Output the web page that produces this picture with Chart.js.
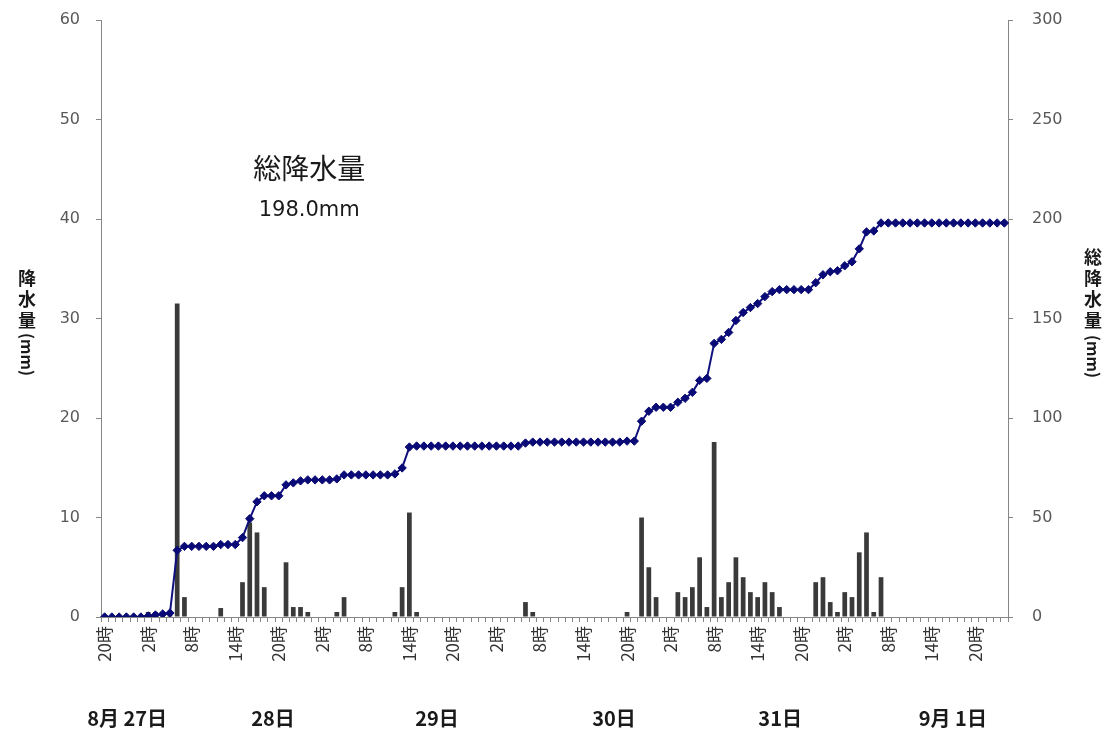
<!DOCTYPE html>
<html>
<head>
<meta charset="utf-8">
<script src="https://cdn.jsdelivr.net/npm/chart.js@4.4.1/dist/chart.umd.min.js"></script>
<style>
	body { margin: 0; background: #fff; }
	canvas { display: block; }
</style>
</head>
<body>
<canvas id="myChart" width="1109" height="735"></canvas>
<script>
// 8/27 20時 から 1時間ごと
var startHour = 20;
var hourCount = 125;

// 時間降水量 (mm)
var rainfall = [
	0, 0, 0, 0, 0, 0, 0.5, 0.5, 0.5, 0.5, 31.5, 2,
	0, 0, 0, 0, 0.9, 0, 0, 3.5, 9.5, 8.5, 3, 0,
	0, 5.5, 1, 1, 0.5, 0, 0, 0, 0.5, 2, 0, 0,
	0, 0, 0, 0, 0.5, 3, 10.5, 0.5, 0, 0, 0, 0,
	0, 0, 0, 0, 0, 0, 0, 0, 0, 0, 1.5, 0.5,
	0, 0, 0, 0, 0, 0, 0, 0, 0, 0, 0, 0,
	0.5, 0, 10, 5, 2, 0, 0, 2.5, 2, 3, 6, 1,
	17.6, 2, 3.5, 6, 4, 2.5, 2, 3.5, 2.5, 1, 0, 0,
	0, 0, 3.5, 4, 1.5, 0.5, 2.5, 2, 6.5, 8.5, 0.5, 4,
	0, 0, 0, 0, 0, 0, 0, 0, 0, 0, 0, 0,
	0, 0, 0, 0, 0
];

// 総降水量 (mm)
var total = [
	0, 0, 0, 0, 0, 0, 0.5, 1, 1.5, 2, 33.5, 35.5,
	35.5, 35.5, 35.5, 35.5, 36.4, 36.4, 36.4, 39.9, 49.4, 57.9, 60.9, 60.9,
	60.9, 66.4, 67.4, 68.4, 68.9, 68.9, 68.9, 68.9, 69.4, 71.4, 71.4, 71.4,
	71.4, 71.4, 71.4, 71.4, 71.9, 74.9, 85.4, 85.9, 85.9, 85.9, 85.9, 85.9,
	85.9, 85.9, 85.9, 85.9, 85.9, 85.9, 85.9, 85.9, 85.9, 85.9, 87.4, 87.9,
	87.9, 87.9, 87.9, 87.9, 87.9, 87.9, 87.9, 87.9, 87.9, 87.9, 87.9, 87.9,
	88.4, 88.4, 98.4, 103.4, 105.4, 105.4, 105.4, 107.9, 109.9, 112.9, 118.9, 119.9,
	137.5, 139.5, 143, 149, 153, 155.5, 157.5, 161, 163.5, 164.5, 164.5, 164.5,
	164.5, 164.5, 168, 172, 173.5, 174, 176.5, 178.5, 185, 193.5, 194, 198,
	198, 198, 198, 198, 198, 198, 198, 198, 198, 198, 198, 198,
	198, 198, 198, 198, 198
];

var dayLabels = ['8月 27日', '28日', '29日', '30日', '31日', '9月 1日'];
var dayLabelAt = [3.1, 23.2, 45.8, 70.2, 93.1, 116.9];

var hours = [];
for (var i = 0; i < hourCount; i++) {
	hours.push(((startHour + i) % 24) + '時');
}

var AXIS = '#868686';
var JP = '"Noto Sans CJK JP", "Noto Sans", sans-serif';

function drawVertical(ctx, x, chars, ys, tail, tailY) {
	ctx.save();
	ctx.fillStyle = '#1a1a1a';
	ctx.font = 'bold 18px ' + JP;
	ctx.textAlign = 'center';
	ctx.textBaseline = 'middle';
	for (var k = 0; k < chars.length; k++) {
		ctx.fillText(chars[k], x, ys[k]);
	}
	ctx.translate(x, tailY);
	ctx.rotate(Math.PI / 2);
	ctx.textAlign = 'left';
	ctx.font = 'bold 16px ' + JP;
	ctx.fillText(tail, 0, 0);
	ctx.restore();
}

// 縦軸の幅を固定し、ラベルのはみ出し分の余白を消す
function fixWidth(scale) {
	scale.width = 101;
	scale.paddingTop = 0;
	scale.paddingBottom = 0;
}

var textPlugin = {
	id: 'texts',
	afterDraw: function (chart) {
		var ctx = chart.ctx;
		var xs = chart.scales.x;
		var ys = chart.scales.y;

		// 軸タイトル
		drawVertical(ctx, 27, ['降', '水', '量'], [278, 299, 320], '(mm)', 333);
		drawVertical(ctx, 1093, ['総', '降', '水', '量'], [257, 278, 299, 320], '(mm)', 335);

		// 総降水量の注記
		ctx.save();
		ctx.fillStyle = '#1a1a1a';
		ctx.textAlign = 'center';
		ctx.textBaseline = 'middle';
		var ax = xs.getPixelForValue(28.2);
		ctx.font = '28px ' + JP;
		ctx.fillText('総降水量', ax, ys.getPixelForValue(45.1));
		ctx.font = '21px "DejaVu Sans", sans-serif';
		ctx.fillText('198.0mm', ax, ys.getPixelForValue(40.8));

		// 日付
		ctx.font = 'bold 20px ' + JP;
		for (var d = 0; d < dayLabels.length; d++) {
			ctx.fillText(dayLabels[d], xs.getPixelForValue(dayLabelAt[d]), 718);
		}
		ctx.restore();
	}
};

var chart = new Chart('myChart', {
	data: {
		labels: hours,
		datasets: [{
			type: 'line',
			yAxisID: 'y2',
			data: total,
			borderColor: '#10107e',
			borderWidth: 2,
			tension: 0,
			pointStyle: 'rectRot',
			pointRadius: 4.2,
			pointBackgroundColor: '#0a0a76',
			pointBorderColor: '#0a0a76',
			pointBorderWidth: 1,
			order: 0
		}, {
			type: 'bar',
			yAxisID: 'y',
			data: rainfall,
			backgroundColor: '#3a3a3a',
			barPercentage: 0.65,
			categoryPercentage: 1,
			order: 1
		}]
	},
	options: {
		responsive: false,
		animation: false,
		layout: {
			padding: { top: 20, left: 0, right: 0, bottom: 0 }
		},
		plugins: {
			legend: { display: false },
			tooltip: { enabled: false }
		},
		scales: {
			x: {
				grid: { drawOnChartArea: false, tickLength: 5, color: AXIS, offset: true },
				border: { color: AXIS, width: 1 },
				ticks: {
					autoSkip: false,
					minRotation: 90,
					maxRotation: 90,
					padding: 4,
					color: '#333',
					font: { family: JP, size: 17 },
					callback: function (value, index) {
						return index % 6 === 0 ? this.getLabelForValue(value) : '';
					}
				},
				afterFit: function (scale) {
					scale.height = 118;
					scale.paddingLeft = 0;
					scale.paddingRight = 0;
				}
			},
			y: {
				position: 'left',
				min: 0,
				max: 60,
				grid: { drawOnChartArea: false, tickLength: 5, color: AXIS },
				border: { color: AXIS, width: 1 },
				ticks: {
					stepSize: 10,
					padding: 16,
					color: '#595959',
					font: { family: '"DejaVu Sans", sans-serif', size: 16 }
				},
				afterFit: fixWidth
			},
			y2: {
				position: 'right',
				min: 0,
				max: 300,
				grid: { drawOnChartArea: false, tickLength: 5, color: AXIS },
				border: { color: AXIS, width: 1 },
				ticks: {
					stepSize: 50,
					padding: 19,
					color: '#595959',
					font: { family: '"DejaVu Sans", sans-serif', size: 16 }
				},
				afterFit: fixWidth
			}
		}
	},
	plugins: [textPlugin]
});
</script>
</body>
</html>
